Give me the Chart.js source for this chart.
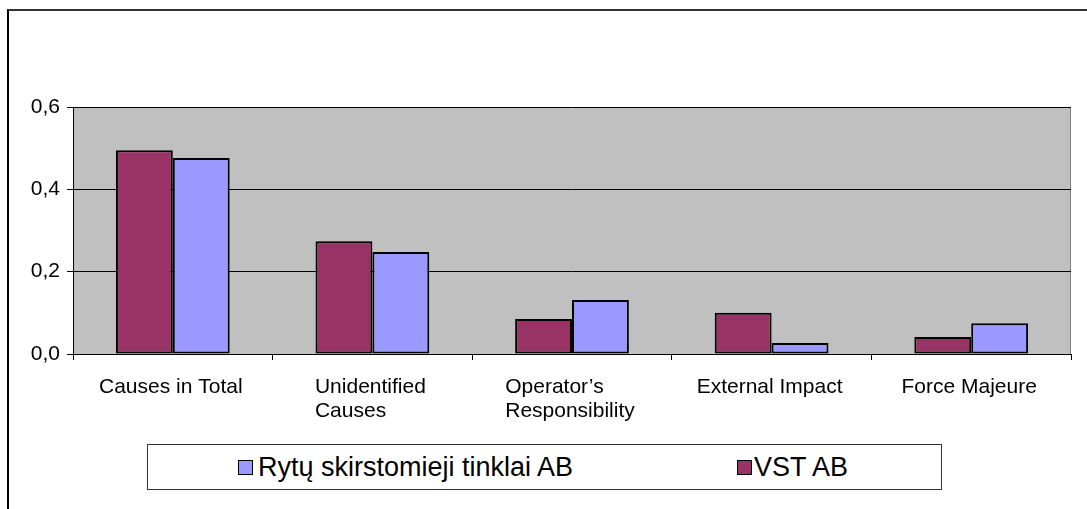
<!DOCTYPE html>
<html>
<head>
<meta charset="utf-8">
<script src="https://cdn.jsdelivr.net/npm/chart.js@4"></script>
<style>
    body { margin: 0; background: #fff; }
    #wrap { position: relative; width: 1087px; height: 509px; font-family: "Liberation Sans", Arial, sans-serif; }
    #frame { position: absolute; left: 7px; top: 9px; right: 0; bottom: 0; border-top: 2px solid #333; border-left: 2px solid #000; pointer-events: none; }
    #legend { position: absolute; left: 147px; top: 444px; width: 793px; height: 44px; border: 1.5px solid #333; background: #fff; }
    .item { position: absolute; top: 0; height: 44px; line-height: 44px; font-size: 27px; color: #000; white-space: nowrap; }
    .box { position: absolute; top: 15px; width: 13px; height: 13px; border: 1px solid #000; }
</style>
</head>
<body>
<div id="wrap">
    <canvas id="myChart" width="1087" height="509"></canvas>
    <div id="frame"></div>
    <div id="legend"></div>
</div>
<script>
const categories = [
    ['Causes in Total'],
    ['Unidentified', 'Causes'],
    ['Operator\u2019s', 'Responsibility'],
    ['External Impact'],
    ['Force Majeure']
];
const vstValues = [0.495, 0.274, 0.085, 0.100, 0.041];
const rytuValues = [0.476, 0.248, 0.131, 0.027, 0.075];
const yTicks = [0, 0.2, 0.4, 0.6];

const fontFamily = '"Liberation Sans", Arial, sans-serif';

// gray plot background
const plotBackground = {
    id: 'plotBackground',
    beforeDraw(chart) {
        const { ctx, chartArea: a } = chart;
        ctx.save();
        ctx.fillStyle = '#C0C0C0';
        ctx.fillRect(a.left, a.top, a.right - a.left, a.bottom - a.top);
        ctx.strokeStyle = '#808080';
        ctx.lineWidth = 1;
        ctx.beginPath();
        ctx.moveTo(a.right - 0.5, a.top);
        ctx.lineTo(a.right - 0.5, a.bottom);
        ctx.stroke();
        ctx.restore();
    }
};

// category labels, lines left aligned inside a centered block
const xLabels = {
    id: 'xLabels',
    afterDraw(chart) {
        const { ctx } = chart;
        const xs = chart.scales.x;
        ctx.save();
        ctx.font = '21px ' + fontFamily;
        ctx.fillStyle = '#000';
        ctx.textAlign = 'left';
        ctx.textBaseline = 'alphabetic';
        categories.forEach((lines, i) => {
            const cx = xs.getPixelForValue(i) - 2;
            const w = Math.max(...lines.map(l => ctx.measureText(l).width));
            lines.forEach((line, k) => {
                ctx.fillText(line, cx - w / 2, 393 + k * 24);
            });
        });
        ctx.restore();
    }
};

const ctx = document.getElementById('myChart').getContext('2d');
const chart = new Chart(ctx, {
    type: 'bar',
    data: {
        labels: categories.map(c => c.join(' ')),
        datasets: [{
            label: 'VST AB',
            data: vstValues,
            backgroundColor: '#993366',
            borderColor: '#000',
            borderWidth: 2,
            borderSkipped: false
        }, {
            label: 'Rytų skirstomieji tinklai AB',
            data: rytuValues,
            backgroundColor: '#9999FF',
            borderColor: '#000',
            borderWidth: 2,
            borderSkipped: false
        }]
    },
    options: {
        responsive: false,
        animation: false,
        layout: { padding: { top: 107, right: 16, left: 0, bottom: 0 } },
        datasets: { bar: { categoryPercentage: 0.57, barPercentage: 1.0 } },
        plugins: { legend: { display: false }, tooltip: { enabled: false } },
        scales: {
            x: {
                offset: true,
                grid: { display: true, drawOnChartArea: false, offset: true, color: '#000', tickLength: 6 },
                border: { color: '#000', width: 1 },
                ticks: { display: false },
                afterFit(scale) { scale.height = 155; }
            },
            y: {
                min: 0,
                max: 0.6,
                afterBuildTicks(scale) { scale.ticks = yTicks.map(v => ({ value: v })); },
                ticks: {
                    color: '#000',
                    padding: 7,
                    font: { family: fontFamily, size: 21 },
                    callback: v => v.toFixed(1).replace('.', ',')
                },
                grid: { color: '#000', lineWidth: 1, tickLength: 6 },
                border: { color: '#000', width: 1 },
                afterFit(scale) { scale.width = 73; }
            }
        }
    },
    plugins: [plotBackground, xLabels]
});

// legend, listed in reverse order like the original
const legend = document.getElementById('legend');
const legendPos = [[90, 110], [589, 606]];
chart.data.datasets.slice().reverse().forEach((ds, i) => {
    const box = document.createElement('div');
    box.className = 'box';
    box.style.left = legendPos[i][0] + 'px';
    box.style.background = ds.backgroundColor;
    legend.appendChild(box);
    const txt = document.createElement('div');
    txt.className = 'item';
    txt.style.left = legendPos[i][1] + 'px';
    txt.textContent = ds.label;
    legend.appendChild(txt);
});
</script>
</body>
</html>
